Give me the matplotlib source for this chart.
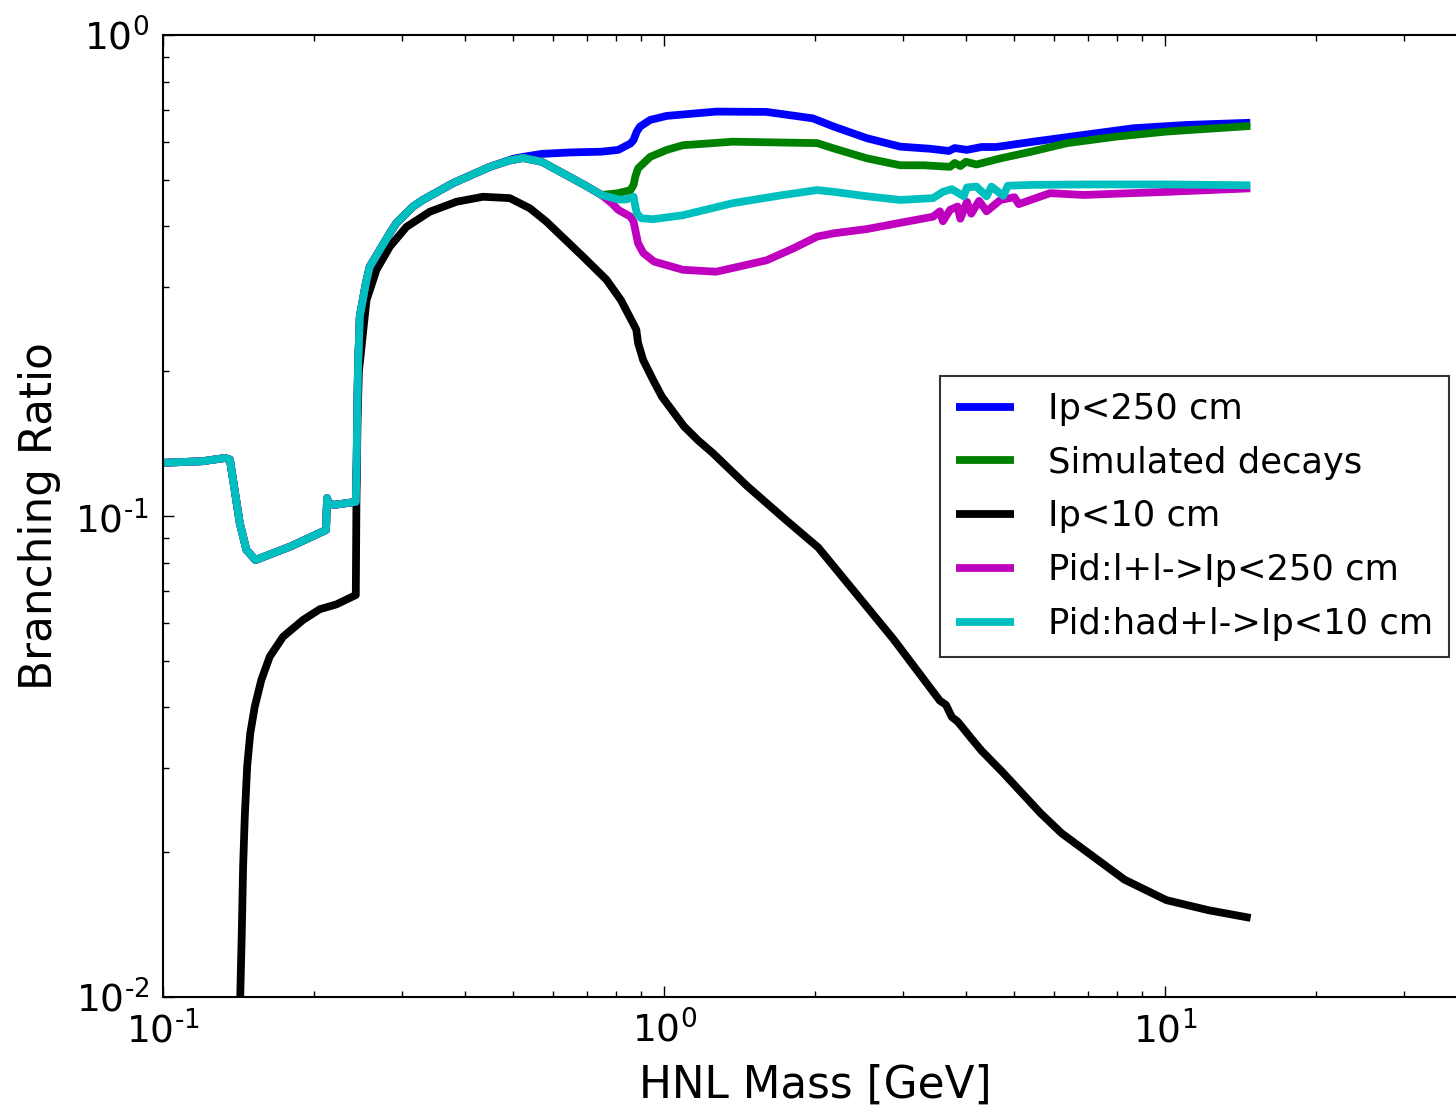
import numpy as np
import matplotlib
matplotlib.use("Agg")
import matplotlib.pyplot as plt
from matplotlib.ticker import FuncFormatter

# ---------------- data ----------------
# shared low-mass part of the four "upper" curves
low_x = [0.1, 0.12, 0.133, 0.136, 0.1423, 0.1467, 0.153, 0.16, 0.18, 0.2115,
         0.2125, 0.214, 0.22, 0.2425, 0.2435, 0.244, 0.245, 0.247, 0.254, 0.2586,
         0.2706, 0.2835, 0.292, 0.3155, 0.33, 0.379, 0.449]
low_y = [0.129, 0.130, 0.132, 0.131, 0.0966, 0.085, 0.081, 0.0825, 0.0865, 0.0935,
         0.109, 0.106, 0.1055, 0.107, 0.13, 0.16, 0.204, 0.26, 0.305, 0.33,
         0.357, 0.387, 0.406, 0.44, 0.454, 0.492, 0.532]
# shared middle part (cyan, green, magenta)
mid_x = [0.49, 0.523, 0.57, 0.628, 0.7, 0.75]
mid_y = [0.548, 0.555, 0.545, 0.516, 0.485, 0.465]

blue_x = [0.5, 0.523, 0.57, 0.65, 0.75, 0.81, 0.857, 0.869, 0.882, 0.895, 0.938,
          1.0125, 1.27, 1.6, 1.98, 2.18, 2.54, 2.96, 3.4, 3.7, 3.8, 4.02, 4.3,
          4.6, 5.45, 6.5, 8.64, 11.0, 14.78]
blue_y = [0.553, 0.558, 0.566, 0.570, 0.572, 0.577, 0.595, 0.605, 0.63, 0.645,
          0.666, 0.679, 0.693, 0.692, 0.671, 0.645, 0.61, 0.586, 0.58, 0.574,
          0.582, 0.577, 0.585, 0.585, 0.60, 0.615, 0.64, 0.65, 0.657]

green_x = [0.81, 0.857, 0.869, 0.876, 0.887, 0.938, 1.0125, 1.09, 1.37, 2.02,
           2.18, 2.54, 2.96, 3.3, 3.72, 3.8, 3.9, 4.0, 4.2, 4.69, 5.4, 6.37, 8.0,
           10.08, 14.78]
green_y = [0.469, 0.476, 0.488, 0.508, 0.528, 0.558, 0.577, 0.59, 0.60, 0.596,
           0.581, 0.554, 0.536, 0.536, 0.532, 0.542, 0.534, 0.545, 0.538, 0.554,
           0.572, 0.596, 0.615, 0.63, 0.647]

black_x = [0.1426, 0.1436, 0.1445, 0.1456, 0.1472, 0.1493, 0.1524, 0.1571, 0.1633,
           0.1736, 0.1903, 0.2055, 0.2218, 0.2425,
           0.2432, 0.2438, 0.2445, 0.246, 0.2547, 0.2667, 0.2835, 0.306, 0.3405,
           0.3849, 0.435, 0.492, 0.54, 0.5825, 0.689, 0.767, 0.82, 0.867, 0.88,
           0.887, 0.908, 0.95, 0.99, 1.05, 1.096, 1.17, 1.25, 1.463, 1.75, 2.03,
           2.87, 3.55, 3.65, 3.75, 3.85, 3.95, 4.1, 4.3, 4.74, 5.64, 6.21, 8.29,
           10.05, 12.2, 14.8]
black_y = [0.01, 0.01356, 0.01866, 0.0237, 0.0301, 0.0353, 0.0401, 0.0456, 0.051,
           0.0561, 0.0608, 0.064, 0.0655, 0.0685,
           0.107, 0.13, 0.16, 0.2, 0.281, 0.325, 0.363, 0.399, 0.429,
           0.45, 0.461, 0.458, 0.436, 0.409, 0.346, 0.31, 0.281, 0.2515, 0.244,
           0.229, 0.211, 0.192, 0.177, 0.163, 0.1535, 0.1435, 0.1352, 0.1155,
           0.0981, 0.086, 0.0554, 0.0413, 0.0405, 0.0382, 0.0374, 0.0362, 0.0345,
           0.0325, 0.0293, 0.0241, 0.0219, 0.01754, 0.0159, 0.01515, 0.0146]

magenta_x = [0.786, 0.81, 0.857, 0.869, 0.876, 0.887, 0.909, 0.955, 1.09, 1.27,
             1.6, 1.81, 2.02, 2.18, 2.54, 2.96, 3.44, 3.55, 3.6, 3.72, 3.85, 3.9,
             4.02, 4.1, 4.25, 4.4, 4.69, 5.0, 5.1, 5.89, 6.86, 10.08, 14.78]
magenta_y = [0.447, 0.433, 0.419, 0.409, 0.393, 0.369, 0.352, 0.338, 0.325, 0.322,
             0.34, 0.36, 0.381, 0.387, 0.395, 0.407, 0.419, 0.43, 0.41, 0.433,
             0.44, 0.415, 0.45, 0.425, 0.452, 0.43, 0.454, 0.46, 0.445, 0.469,
             0.465, 0.472, 0.48]

cyan_x = [0.81, 0.84, 0.869, 0.876, 0.882, 0.9, 0.95, 1.09, 1.37, 1.73, 2.02,
          2.18, 2.54, 2.96, 3.44, 3.6, 3.75, 3.96, 4.02, 4.2, 4.4, 4.5, 4.75,
          4.85, 5.45, 7.0, 10.0, 14.78]
cyan_y = [0.455, 0.455, 0.461, 0.44, 0.426, 0.416, 0.414, 0.422, 0.447, 0.465,
          0.476, 0.472, 0.462, 0.454, 0.458, 0.472, 0.478, 0.462, 0.482, 0.484,
          0.462, 0.484, 0.463, 0.486, 0.488, 0.489, 0.489, 0.487]

labels = ["Ip<250 cm", "Simulated decays", "Ip<10 cm",
          "Pid:l+l->Ip<250 cm", "Pid:had+l->Ip<10 cm"]
colors = ["b", "g", "k", "m", "c"]

x_limits = (0.1, 40)
y_limits = (0.01, 1)

# ---------------- build series ----------------
series = [
    (low_x + blue_x, low_y + blue_y),
    (low_x + mid_x + green_x, low_y + mid_y + green_y),
    (black_x, black_y),
    (low_x + mid_x + magenta_x, low_y + mid_y + magenta_y),
    (low_x + mid_x + cyan_x, low_y + mid_y + cyan_y),
]

# ---------------- figure ----------------
plt.rcParams["font.family"] = ["DejaVu Sans"]
plt.rcParams["axes.unicode_minus"] = False
W, H = 1456, 1109
fig = plt.figure(figsize=(W / 100, H / 100), dpi=100, facecolor="white")
left, top, bottom = 163, 35, 997
right = 1467  # right spine lies just beyond the image edge
ax = fig.add_axes([left / W, (H - bottom) / H, (right - left) / W, (bottom - top) / H])

for (xs, ys), c, lab in zip(series, colors, labels):
    ax.plot(xs, ys, color=c, lw=5.6, label=lab, solid_joinstyle="round",
            solid_capstyle="butt")

ax.set_xscale("log")
ax.set_yscale("log")
ax.set_xlim(*x_limits)
ax.set_ylim(*y_limits)


def pow10(v, pos):
    e = int(round(np.log10(v)))
    s = str(e).replace("-", r"\text{-}")
    return r"$\mathdefault{10^{%s}}$" % s


ax.xaxis.set_major_formatter(FuncFormatter(pow10))
ax.yaxis.set_major_formatter(FuncFormatter(pow10))

for s in ax.spines.values():
    s.set_linewidth(1.5)
ax.tick_params(which="both", direction="in", top=True, right=True,
               labelsize=27, width=1.0)
ax.tick_params(which="major", length=8, pad=10)
ax.tick_params(which="minor", length=4)

ax.set_xlabel("HNL Mass [GeV]", fontsize=31.5, labelpad=9)
ax.set_ylabel("Branching Ratio", fontsize=31.5, labelpad=10.5)

leg = ax.legend(loc="upper left", bbox_to_anchor=(940 / W, 1 - 376 / H),
                bbox_transform=fig.transFigure, fontsize=25.4, frameon=True,
                fancybox=False, shadow=False, handlelength=1.65,
                handletextpad=0.95, labelspacing=0.56, borderpad=0.45,
                borderaxespad=0.0)
leg.get_frame().set_edgecolor("black")
leg.get_frame().set_linewidth(1.5)

fig.savefig("out.png", dpi=100, facecolor="white")
